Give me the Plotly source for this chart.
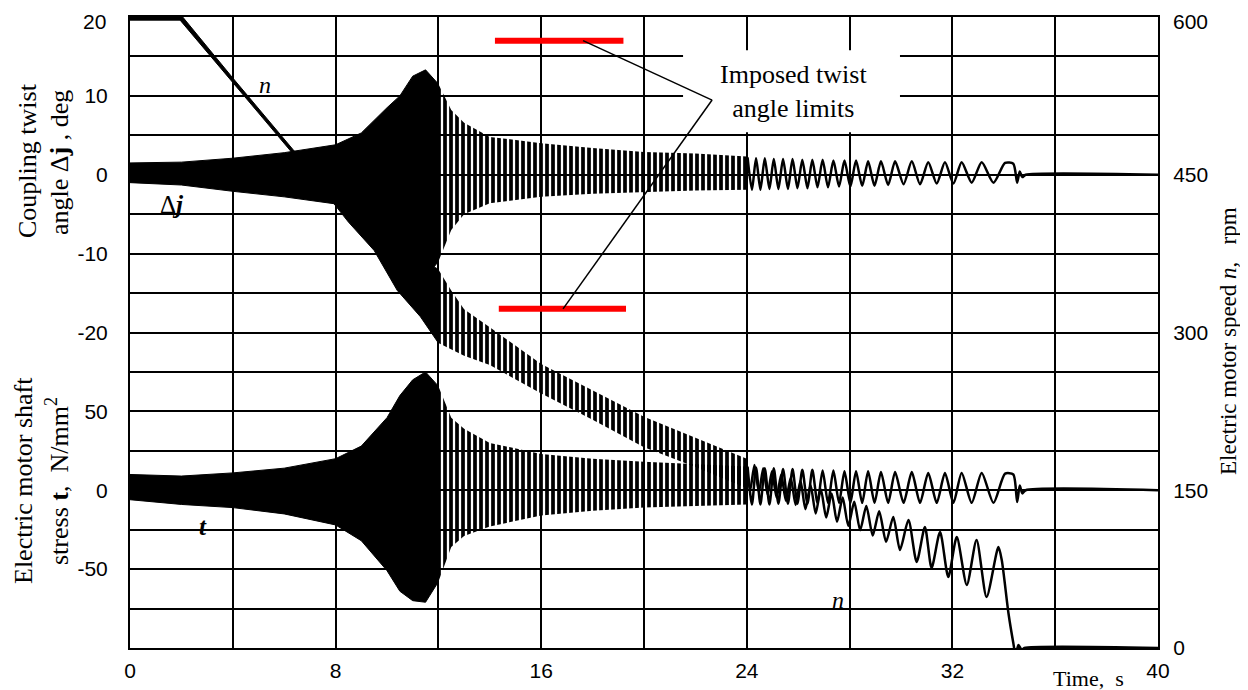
import plotly.graph_objects as go

# ---------------- data ----------------
# Time axis (s)
x_ticks = [0, 4, 8, 12, 16, 20, 24, 28, 32, 36, 40]
x_ticktext = ["0", "", "8", "", "16", "", "24", "", "32", "", "40"]

# Coupling twist angle (deg) - envelope of the dense oscillation
dphi_env_t = [0, 2, 4, 6, 8, 9, 10, 10.5, 11, 11.5, 12, 12.5, 13, 14, 16, 18, 20, 22, 24]
dphi_env_hi = [1.5, 1.6, 2.1, 2.8, 3.8, 5.3, 8.5, 10.0, 12.5, 13.3, 11.5, 8.2, 6.6, 4.8, 4.0, 3.4, 2.9, 2.7, 2.3]
dphi_env_lo = [-1.0, -1.3, -2.1, -2.8, -3.7, -5.5, -8.5, -10.0, -12.0, -13.0, -11.0, -7.0, -5.0, -3.6, -2.8, -2.4, -2.2, -2.0, -1.9]
# Coupling twist angle (deg) - resolvable tail (successive extremes)
dphi_tail_t = [24.03, 24.20, 24.36, 24.53, 24.70, 24.88, 25.05, 25.23, 25.41, 25.60,
               25.78, 25.97, 26.16, 26.36, 26.55, 26.75, 26.95, 27.16, 27.37, 27.59,
               27.80, 28.03, 28.25, 28.49, 28.72, 28.97, 29.22, 29.50, 29.77, 30.10,
               30.42, 30.74, 31.06, 31.39, 31.71, 32.04, 32.36, 32.75, 33.14, 33.60,
               34.05, 34.37, 34.52, 34.62, 34.72, 34.85, 40.0]
dphi_tail_v = [2.2, -1.9, 2.1, -1.9, 2.1, -1.8, 2.0, -1.8, 2.0, -1.8,
               2.0, -1.7, 1.9, -1.7, 1.9, -1.6, 1.9, -1.6, 1.8, -1.5,
               1.8, -1.5, 1.8, -1.4, 1.7, -1.4, 1.7, -1.3, 1.7, -1.2,
               1.7, -1.2, 1.6, -1.1, 1.6, -1.1, 1.6, -1.0, 1.6, -1.0,
               1.5, 1.4, -1.0, 0.4, -0.3, 0.0, 0.0]

# Electric motor shaft stress (N/mm2)
tau_env_t = [0, 2, 4, 6, 8, 9, 10, 10.5, 11, 11.5, 12, 12.5, 13, 14, 16, 18, 20, 22, 24]
tau_env_hi = [10, 9, 11, 14, 20, 28, 46, 60, 70, 75, 66, 46, 39, 30, 23, 20, 18, 16.5, 15]
tau_env_lo = [-6, -9, -11, -15, -22, -32, -51, -64, -70, -71, -58, -36, -29, -23, -16, -13, -11, -10, -9]
tau_tail_t = dphi_tail_t
tau_tail_v = [15, -9, 14.5, -9, 14, -9, 14, -8.5, 13.5, -8.5,
              13.5, -8.5, 13, -8.5, 13, -8, 12.5, -8, 12.5, -8,
              12, -8, 12, -8, 12, -8, 11.5, -8, 11.5, -8,
              11.5, -8, 11, -8, 11, -8, 11, -8, 11, -8,
              10.5, 10, -7.5, 3, -2, 0, 0]

# Electric motor speed (rpm)
n_env_t = [0, 1.95, 4, 6.34, 7.5, 8.5, 9.5, 10.4, 11.3, 12, 12.5, 13, 14, 16, 18, 20, 22, 24]
n_env_hi = [603, 603, 542, 474, 442, 420, 405, 390, 370, 360, 340, 322, 305, 270, 245, 220, 200, 180]
n_env_lo = [597, 597, 538, 470, 436, 405, 378, 340, 315, 290, 284, 278, 269, 242, 217, 191, 172, 152]
n_tail_t = [23.97, 24.13, 24.30, 24.47, 24.64, 24.81, 24.98, 25.16, 25.34, 25.52,
            25.71, 25.90, 26.09, 26.28, 26.48, 26.68, 26.88, 27.09, 27.30, 27.51,
            27.73, 27.95, 28.18, 28.41, 28.65, 28.90, 29.15, 29.42, 29.70, 29.96,
            30.29, 30.61, 30.93, 31.19, 31.52, 31.84, 32.17, 32.56, 32.94, 33.33,
            33.79, 33.92, 34.18, 34.37, 34.46, 34.57, 34.70, 34.80, 40.0]
n_tail_v = [176, 150, 174, 148, 171, 146, 168, 143, 165, 140,
            162, 136, 159, 132, 155, 128, 151, 124, 147, 120,
            143, 116, 139, 112, 135, 107, 130, 101, 124.6, 93.2,
            121.7, 81.8, 115.0, 76.1, 110.3, 67.5, 105.5, 59.9, 102.7, 48.5,
            96.0, 83.7, 33.3, 4.8, -6.7, 2.9, -1.9, 0, 0]

# Axis tick values / labels (the topmost labels sit at the frame edge and are placed as text)
dphi_ticks = [10, 0, -10, -20]
dphi_labels = ["10", "0", "-10", "-20"]
dphi_top_label = "20"
tau_ticks = [50, 0, -50]
tau_labels = ["50", "0", "-50"]
n_grid = [0, 37.5, 75, 112.5, 150, 187.5, 225, 262.5, 300, 337.5, 375, 412.5, 450, 487.5, 525, 562.5, 600]
n_labels = ["0", "", "", "", "150", "", "", "", "300", "", "", "", "450", "", "", "", ""]
n_top_label = "600"

# Imposed twist angle limits (deg) and their time span (s)
limit_hi_t = [14.2, 19.2]
limit_lo_t = [14.35, 19.3]
limit_val = 17

assert len(dphi_tail_t) == len(dphi_tail_v) == len(tau_tail_v)
assert len(n_tail_t) == len(n_tail_v)

# ---------------- layout constants ----------------
# the page body has an 8 px margin, so the figure is sized to fill the 1248x690 window
PAGE_OFF = 8
W, H = 1248 - PAGE_OFF, 690 - PAGE_OFF
PLOT_L, PLOT_R, PLOT_T, PLOT_B = 130, 1158, 17, 648   # plot area in window pixels
ML, MT = PLOT_L - PAGE_OFF, PLOT_T - PAGE_OFF
MR, MB = 1248 - PLOT_R, 690 - PLOT_B
PW, PH = PLOT_R - PLOT_L, PLOT_B - PLOT_T
SERIF = "Liberation Serif, Times New Roman, serif"
SANS = "Liberation Sans, Arial, sans-serif"


def px2paper(px, py):
    return (px - PLOT_L) / PW, (PLOT_B - py) / PH


def band(t, hi, lo, t0, t1):
    idx = [i for i, v in enumerate(t) if t0 <= v <= t1]
    xs = [t[i] for i in idx] + [t[i] for i in reversed(idx)]
    ys = [hi[i] for i in idx] + [lo[i] for i in reversed(idx)]
    return xs, ys


fig = go.Figure()
HATCH = dict(shape="|", size=6, solidity=0.62, fgcolor="black", fgopacity=1,
             bgcolor="rgba(0,0,0,0)", fillmode="replace")


def add_series(t, hi, lo, tail_t, tail_v, yref, split):
    xs, ys = band(t, hi, lo, 0, split)
    fig.add_trace(go.Scatter(x=xs, y=ys, fill="toself", fillcolor="black", mode="lines",
                             line=dict(color="black", width=1), yaxis=yref, hoverinfo="skip"))
    xs, ys = band(t, hi, lo, split, 40)
    fig.add_trace(go.Scatter(x=xs, y=ys, fill="toself", fillpattern=HATCH,
                             mode="lines", line=dict(color="black", width=0), yaxis=yref,
                             hoverinfo="skip"))
    fig.add_trace(go.Scatter(x=tail_t, y=tail_v, mode="lines",
                             line=dict(color="black", width=2.5, shape="spline", smoothing=0.7),
                             yaxis=yref, hoverinfo="skip"))


add_series(n_env_t, n_env_hi, n_env_lo, n_tail_t, n_tail_v, "y3", 12)
add_series(tau_env_t, tau_env_hi, tau_env_lo, tau_tail_t, tau_tail_v, "y2", 12)
add_series(dphi_env_t, dphi_env_hi, dphi_env_lo, dphi_tail_t, dphi_tail_v, "y", 12)

# ---------------- shapes ----------------
shapes = []
# red limit lines
shapes.append(dict(type="line", xref="x", yref="y", x0=limit_hi_t[0], x1=limit_hi_t[1],
                   y0=limit_val, y1=limit_val, line=dict(color="#ff0000", width=6), layer="above"))
shapes.append(dict(type="line", xref="x", yref="y", x0=limit_lo_t[0], x1=limit_lo_t[1],
                   y0=-limit_val, y1=-limit_val, line=dict(color="#ff0000", width=6), layer="above"))
# white label box (hides gridlines)
shapes.append(dict(type="rect", xref="x", yref="y", x0=21.52, x1=29.96, y0=5.4, y1=15.8,
                   fillcolor="white", line=dict(width=0), layer="above"))
# leader lines
shapes.append(dict(type="line", xref="x", yref="y", x0=17.63, y0=limit_val, x1=22.65, y1=9.47,
                   line=dict(color="black", width=1.5), layer="above"))
shapes.append(dict(type="line", xref="x", yref="y", x0=16.85, y0=-limit_val, x1=22.65, y1=9.47,
                   line=dict(color="black", width=1.5), layer="above"))

# ---------------- annotations ----------------
ann = []


def txt(text, px, py, size, family=SERIF, angle=0, xanchor="center"):
    xp, yp = px2paper(px, py)
    ann.append(dict(text=text, x=xp, y=yp, xref="paper", yref="paper", showarrow=False,
                    textangle=angle, xanchor=xanchor, yanchor="middle",
                    font=dict(family=family, size=size, color="black")))


txt("Imposed twist<br>angle limits", 793, 92, 26)
txt("Coupling twist", 28, 161, 26, angle=-90)
txt("angle Δ<b>j</b> , deg", 60, 163, 26, angle=-90)
txt("Electric motor shaft", 23, 481, 26, angle=-90)
txt("stress <b>t</b>,  N/mm<sup>2</sup>", 57, 481, 26, angle=-90)
txt("Electric motor speed <i>n</i>,   rpm", 1228, 341, 23, angle=-90)
txt("Time,  s", 1088, 678, 22)
txt("<i>n</i>", 265, 85, 24)
txt("<i>n</i>", 838, 600, 24)
txt("Δ<b><i>j</i></b>", 172, 204, 25)
txt("<b><i>t</i></b>", 203, 526, 25)
txt(dphi_top_label, 108, 22, 21, family=SANS, xanchor="right")
txt(n_top_label, 1171, 22, 21, family=SANS, xanchor="left")

axis_common = dict(showline=True, linecolor="black", linewidth=2, zeroline=False,
                   automargin=False, ticklabeloverflow="allow",
                   tickfont=dict(family=SANS, size=21, color="black"))

fig.update_layout(
    width=W, height=H, margin=dict(l=ML, r=MR, t=MT, b=MB, autoexpand=False),
    paper_bgcolor="white", plot_bgcolor="white", showlegend=False,
    xaxis=dict(range=[0, 40], tickmode="array", tickvals=x_ticks, ticktext=x_ticktext,
               showgrid=True, gridcolor="black", gridwidth=2, ticks="", mirror=True,
               ticklabelstandoff=3, **axis_common),
    yaxis=dict(range=[-60, 20], tickmode="array", tickvals=dphi_ticks, ticktext=dphi_labels,
               showgrid=False, ticks="", side="left", mirror=True,
               ticklabelstandoff=16, **axis_common),
    yaxis2=dict(range=[-100, 300], tickmode="array", tickvals=tau_ticks, ticktext=tau_labels,
                overlaying="y", anchor="x", side="left", showgrid=False, ticks="",
                ticklabelstandoff=16, **axis_common),
    yaxis3=dict(range=[0, 600], tickmode="array", tickvals=n_grid, ticktext=n_labels,
                overlaying="y", anchor="x", side="right", showgrid=True, gridcolor="black",
                gridwidth=2, ticks="", ticklabelstandoff=9, **axis_common),
    shapes=shapes, annotations=ann,
)

fig.write_html("out.html")
